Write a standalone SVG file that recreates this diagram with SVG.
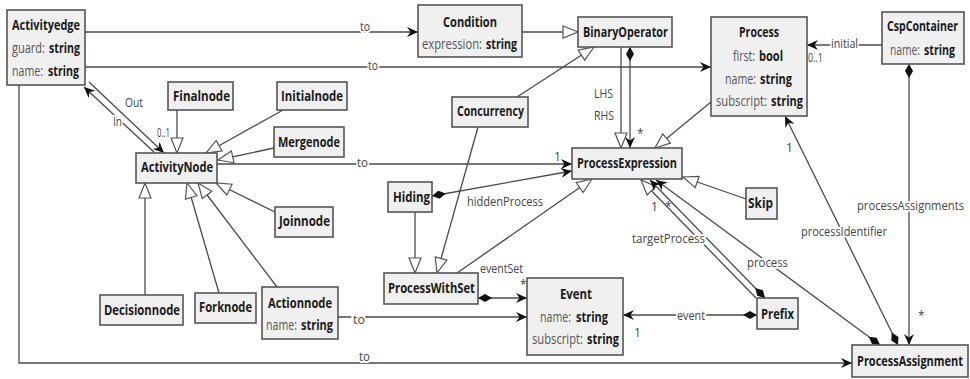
<svg xmlns="http://www.w3.org/2000/svg" width="970" height="379" viewBox="0 0 970 379">
  <style>
    .box { fill: #f0f0f0; stroke: #555; stroke-width: 1.6; }
    .t { font-family: "Open Sans", "Noto Sans", sans-serif; font-size: 14px; fill: #1a1a1a; font-weight: bold; }
    .g { font-family: "Open Sans", "Noto Sans", sans-serif; font-size: 14px; fill: #555; }
    .edge { fill: none; stroke: #4a4a4a; stroke-width: 1.3; }
    .lbl { font-family: "Open Sans", "Noto Sans", sans-serif; font-size: 13.5px; fill: #444; paint-order: stroke; stroke: #fff; stroke-width: 4px; stroke-linejoin: round; }
    .m { font-family: "Open Sans", "Noto Sans", sans-serif; font-size: 12px; fill: #444; }
  </style>
  <defs>
    <!-- navigable association end -->
    <marker id="arr" markerWidth="12" markerHeight="12" refX="11" refY="6" orient="auto" markerUnits="userSpaceOnUse">
      <path d="M0,1 L11,6 L0,11 L3.5,6 z" fill="#111"/>
    </marker>
    <!-- generalization (hollow triangle) -->
    <marker id="gen" markerWidth="17" markerHeight="15" refX="16" refY="7.5" orient="auto" markerUnits="userSpaceOnUse">
      <path d="M1,1.5 L16,7.5 L1,13.5 z" fill="#fff" stroke="#555" stroke-width="1.2"/>
    </marker>
    <!-- composition (filled diamond) -->
    <marker id="dia" markerWidth="18" markerHeight="10" refX="1" refY="5" orient="auto" markerUnits="userSpaceOnUse">
      <path d="M1,5 L8,1 L15,5 L8,9 z" fill="#111"/>
    </marker>
  </defs>

  <rect width="970" height="379" fill="#fff"/>

  <g id="connectors">
    <!-- associations "to" -->
    <path class="edge" d="M85,32 H418" marker-end="url(#arr)"/>
    <path class="edge" d="M85,67 H711" marker-end="url(#arr)"/>
    <path class="edge" d="M217,164 H572" marker-end="url(#arr)"/>
    <path class="edge" d="M338,317 H527" marker-end="url(#arr)"/>
    <path class="edge" d="M19,85 V363 H852" marker-end="url(#arr)"/>
    <!-- Out / In -->
    <path class="edge" d="M89,82 L164,153" marker-end="url(#arr)"/>
    <path class="edge" d="M155,153 L84,87" marker-end="url(#arr)"/>
    <!-- generalizations to ActivityNode -->
    <path class="edge" d="M177,110 V153" marker-end="url(#gen)"/>
    <path class="edge" d="M283,110 L206,153" marker-end="url(#gen)"/>
    <path class="edge" d="M274,148 L218,160" marker-end="url(#gen)"/>
    <path class="edge" d="M275,212 L216,183" marker-end="url(#gen)"/>
    <path class="edge" d="M145,295 V183" marker-end="url(#gen)"/>
    <path class="edge" d="M219,293 L187,183" marker-end="url(#gen)"/>
    <path class="edge" d="M277,287 L198,183" marker-end="url(#gen)"/>
    <!-- process algebra -->
    <path class="edge" d="M522,32 H578" marker-end="url(#gen)"/>
    <path class="edge" d="M621,47 V148" marker-end="url(#gen)"/>
    <path class="edge" d="M630,47 V148" marker-start="url(#dia)" marker-end="url(#arr)"/>
    <path class="edge" d="M517,97 L594,47" marker-end="url(#gen)"/>
    <path class="edge" d="M478,127 L437,273" marker-end="url(#gen)"/>
    <path class="edge" d="M415,212 V273" marker-end="url(#gen)"/>
    <path class="edge" d="M432,196 L572,171" marker-start="url(#dia)" marker-end="url(#arr)"/>
    <path class="edge" d="M457,273 L592,179" marker-end="url(#gen)"/>
    <path class="edge" d="M478,298 H527" marker-start="url(#dia)" marker-end="url(#arr)"/>
    <path class="edge" d="M757,315 H623" marker-start="url(#dia)" marker-end="url(#arr)"/>
    <path class="edge" d="M756,298 L641,180" marker-end="url(#gen)"/>
    <path class="edge" d="M765,298 L650,180" marker-start="url(#dia)" marker-end="url(#arr)"/>
    <path class="edge" d="M880,345 L656,180" marker-start="url(#dia)" marker-end="url(#arr)"/>
    <path class="edge" d="M746,199 L683,177" marker-end="url(#gen)"/>
    <path class="edge" d="M711,102 L655,148" marker-end="url(#gen)"/>
    <path class="edge" d="M882,45 H807" marker-end="url(#arr)"/>
    <path class="edge" d="M909,64 V345" marker-start="url(#dia)" marker-end="url(#arr)"/>
    <path class="edge" d="M898,345 L785,116" marker-start="url(#dia)" marker-end="url(#arr)"/>

    <!-- role names and multiplicities -->
    <text class="lbl" x="360" y="31" textLength="10" lengthAdjust="spacingAndGlyphs">to</text>
    <text class="lbl" x="368" y="70" textLength="10" lengthAdjust="spacingAndGlyphs">to</text>
    <text class="lbl" x="357" y="167" textLength="11" lengthAdjust="spacingAndGlyphs">to</text>
    <text class="lbl" x="353" y="324" textLength="12" lengthAdjust="spacingAndGlyphs">to</text>
    <text class="lbl" x="359" y="361" textLength="11" lengthAdjust="spacingAndGlyphs">to</text>
    <text class="lbl" x="125" y="107" textLength="18" lengthAdjust="spacingAndGlyphs">Out</text>
    <text class="lbl" x="113" y="126" textLength="9" lengthAdjust="spacingAndGlyphs">In</text>
    <text class="m" x="157" y="137" textLength="13" lengthAdjust="spacingAndGlyphs">0..1</text>
    <text class="lbl" x="594" y="98" textLength="19" lengthAdjust="spacingAndGlyphs">LHS</text>
    <text class="lbl" x="594" y="120" textLength="20" lengthAdjust="spacingAndGlyphs">RHS</text>
    <text class="m" x="637" y="138">*</text>
    <text class="m" x="554" y="161">1</text>
    <text class="lbl" x="467" y="206" textLength="76" lengthAdjust="spacingAndGlyphs">hiddenProcess</text>
    <text class="lbl" x="480" y="273" textLength="43" lengthAdjust="spacingAndGlyphs">eventSet</text>
    <text class="m" x="520" y="289">*</text>
    <text class="m" x="634" y="337">1</text>
    <text class="lbl" x="677" y="320" textLength="28" lengthAdjust="spacingAndGlyphs">event</text>
    <text class="lbl" x="632" y="243" textLength="73" lengthAdjust="spacingAndGlyphs">targetProcess</text>
    <text class="m" x="651" y="211">1</text>
    <text class="m" x="665" y="211">*</text>
    <text class="lbl" x="747" y="267" textLength="41" lengthAdjust="spacingAndGlyphs">process</text>
    <text class="lbl" x="801" y="236" textLength="86" lengthAdjust="spacingAndGlyphs">processIdentifier</text>
    <text class="lbl" x="964" y="210" text-anchor="end" textLength="107" lengthAdjust="spacingAndGlyphs">processAssignments</text>
    <text class="m" x="918" y="320">*</text>
    <text class="lbl" x="831" y="48" textLength="27" lengthAdjust="spacingAndGlyphs">initial</text>
    <text class="m" x="808" y="62" textLength="15" lengthAdjust="spacingAndGlyphs">0..1</text>
    <text class="m" x="786" y="152">1</text>
  </g>

  <g id="Activityedge">
    <rect class="box" x="7" y="10" width="78" height="75"/>
    <text class="t" x="12" y="30" textLength="68" lengthAdjust="spacingAndGlyphs">Activityedge</text>
    <text class="g" x="12" y="53" textLength="33" lengthAdjust="spacingAndGlyphs">guard:</text>
    <text class="t" x="49" y="53" textLength="31" lengthAdjust="spacingAndGlyphs">string</text>
    <text class="g" x="12" y="76" textLength="31" lengthAdjust="spacingAndGlyphs">name:</text>
    <text class="t" x="48" y="76" textLength="31" lengthAdjust="spacingAndGlyphs">string</text>
  </g>
  <g id="Condition">
    <rect class="box" x="418" y="5" width="104" height="52"/>
    <text class="t" x="443" y="27" textLength="54" lengthAdjust="spacingAndGlyphs">Condition</text>
    <text class="g" x="422" y="49" textLength="60" lengthAdjust="spacingAndGlyphs">expression:</text>
    <text class="t" x="486" y="49" textLength="31" lengthAdjust="spacingAndGlyphs">string</text>
  </g>
  <g id="BinaryOperator">
    <rect class="box" x="578" y="17" width="94" height="30"/>
    <text class="t" x="583" y="37" textLength="85" lengthAdjust="spacingAndGlyphs">BinaryOperator</text>
  </g>
  <g id="Process">
    <rect class="box" x="711" y="17" width="96" height="99"/>
    <text class="t" x="739" y="37" textLength="40" lengthAdjust="spacingAndGlyphs">Process</text>
    <text class="g" x="733" y="61" textLength="22" lengthAdjust="spacingAndGlyphs">first:</text>
    <text class="t" x="759" y="61" textLength="24" lengthAdjust="spacingAndGlyphs">bool</text>
    <text class="g" x="725" y="84" textLength="31" lengthAdjust="spacingAndGlyphs">name:</text>
    <text class="t" x="760" y="84" textLength="32" lengthAdjust="spacingAndGlyphs">string</text>
    <text class="g" x="716" y="106" textLength="51" lengthAdjust="spacingAndGlyphs">subscript:</text>
    <text class="t" x="771" y="106" textLength="32" lengthAdjust="spacingAndGlyphs">string</text>
  </g>
  <g id="CspContainer">
    <rect class="box" x="882" y="12" width="82" height="52"/>
    <text class="t" x="958" y="31" text-anchor="end" textLength="71" lengthAdjust="spacingAndGlyphs">CspContainer</text>
    <text class="g" x="890" y="55" textLength="30" lengthAdjust="spacingAndGlyphs">name:</text>
    <text class="t" x="955" y="55" text-anchor="end" textLength="31" lengthAdjust="spacingAndGlyphs">string</text>
  </g>
  <g id="Finalnode">
    <rect class="box" x="168" y="82" width="65" height="28"/>
    <text class="t" x="173" y="101" textLength="57" lengthAdjust="spacingAndGlyphs">Finalnode</text>
  </g>
  <g id="Initialnode">
    <rect class="box" x="277" y="82" width="70" height="28"/>
    <text class="t" x="281" y="101" textLength="62" lengthAdjust="spacingAndGlyphs">Initialnode</text>
  </g>
  <g id="Mergenode">
    <rect class="box" x="274" y="127" width="70" height="30"/>
    <text class="t" x="278" y="147" textLength="62" lengthAdjust="spacingAndGlyphs">Mergenode</text>
  </g>
  <g id="ActivityNode">
    <rect class="box" x="136" y="153" width="81" height="30"/>
    <text class="t" x="141" y="172" textLength="72" lengthAdjust="spacingAndGlyphs">ActivityNode</text>
  </g>
  <g id="Joinnode">
    <rect class="box" x="275" y="207" width="58" height="30"/>
    <text class="t" x="279" y="226" textLength="51" lengthAdjust="spacingAndGlyphs">Joinnode</text>
  </g>
  <g id="Decisionnode">
    <rect class="box" x="100" y="295" width="83" height="30"/>
    <text class="t" x="104" y="315" textLength="76" lengthAdjust="spacingAndGlyphs">Decisionnode</text>
  </g>
  <g id="Forknode">
    <rect class="box" x="195" y="293" width="61" height="30"/>
    <text class="t" x="199" y="312" textLength="53" lengthAdjust="spacingAndGlyphs">Forknode</text>
  </g>
  <g id="Actionnode">
    <rect class="box" x="262" y="287" width="76" height="52"/>
    <text class="t" x="268" y="308" textLength="64" lengthAdjust="spacingAndGlyphs">Actionnode</text>
    <text class="g" x="266" y="330" textLength="31" lengthAdjust="spacingAndGlyphs">name:</text>
    <text class="t" x="301" y="330" textLength="32" lengthAdjust="spacingAndGlyphs">string</text>
  </g>
  <g id="Concurrency">
    <rect class="box" x="452" y="97" width="76" height="30"/>
    <text class="t" x="457" y="116" textLength="67" lengthAdjust="spacingAndGlyphs">Concurrency</text>
  </g>
  <g id="Hiding">
    <rect class="box" x="388" y="182" width="44" height="30"/>
    <text class="t" x="393" y="202" textLength="37" lengthAdjust="spacingAndGlyphs">Hiding</text>
  </g>
  <g id="ProcessWithSet">
    <rect class="box" x="384" y="273" width="94" height="31"/>
    <text class="t" x="388" y="293" textLength="87" lengthAdjust="spacingAndGlyphs">ProcessWithSet</text>
  </g>
  <g id="ProcessExpression">
    <rect class="box" x="572" y="148" width="110" height="31"/>
    <text class="t" x="577" y="168" textLength="100" lengthAdjust="spacingAndGlyphs">ProcessExpression</text>
  </g>
  <g id="Event">
    <rect class="box" x="527" y="278" width="96" height="77"/>
    <text class="t" x="560" y="299" textLength="32" lengthAdjust="spacingAndGlyphs">Event</text>
    <text class="g" x="540" y="322" textLength="31" lengthAdjust="spacingAndGlyphs">name:</text>
    <text class="t" x="576" y="322" textLength="32" lengthAdjust="spacingAndGlyphs">string</text>
    <text class="g" x="532" y="344" textLength="51" lengthAdjust="spacingAndGlyphs">subscript:</text>
    <text class="t" x="587" y="344" textLength="32" lengthAdjust="spacingAndGlyphs">string</text>
  </g>
  <g id="Skip">
    <rect class="box" x="746" y="188" width="31" height="31"/>
    <text class="t" x="748" y="208" textLength="25" lengthAdjust="spacingAndGlyphs">Skip</text>
  </g>
  <g id="Prefix">
    <rect class="box" x="757" y="298" width="41" height="31"/>
    <text class="t" x="761" y="319" textLength="33" lengthAdjust="spacingAndGlyphs">Prefix</text>
  </g>
  <g id="ProcessAssignment">
    <rect class="box" x="852" y="345" width="116" height="32"/>
    <text class="t" x="963" y="366" text-anchor="end" textLength="106" lengthAdjust="spacingAndGlyphs">ProcessAssignment</text>
  </g>
</svg>
